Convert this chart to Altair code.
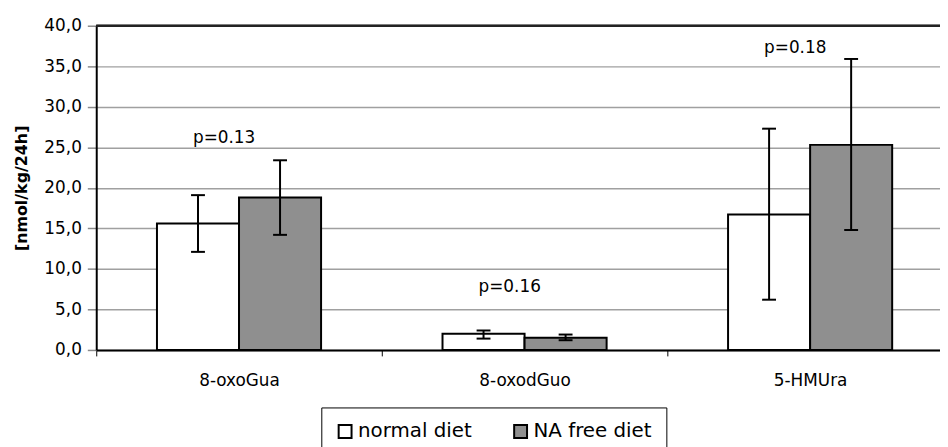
import altair as alt
import pandas as pd

categories = ["8-oxoGua", "8-oxodGuo", "5-HMUra"]
diets = ["normal diet", "NA free diet"]
normal_mean = [15.6, 2.0, 16.7]
normal_low = [12.1, 1.4, 6.2]
normal_high = [19.1, 2.4, 27.3]
nafree_mean = [18.8, 1.5, 25.3]
nafree_low = [14.2, 1.2, 14.8]
nafree_high = [23.4, 1.9, 35.9]
p_labels = ["p=0.13", "p=0.16", "p=0.18"]
p_label_y = [26.2, 7.8, 37.2]
y_ticks = [0, 5, 10, 15, 20, 25, 30, 35, 40]

rows = []
for i, c in enumerate(categories):
    rows.append({"category": c, "diet": diets[0], "mean": normal_mean[i],
                 "low": normal_low[i], "high": normal_high[i]})
    rows.append({"category": c, "diet": diets[1], "mean": nafree_mean[i],
                 "low": nafree_low[i], "high": nafree_high[i]})
df = pd.DataFrame(rows)
pdf = pd.DataFrame({"category": categories, "label": p_labels, "y": p_label_y})

FONT = "DejaVu Sans"

x_enc = alt.X(
    "category:N", sort=categories,
    scale=alt.Scale(range=[0, 864], paddingInner=0, paddingOuter=0),
    axis=alt.Axis(title=None, tickBand="extent", labelAngle=0, labelFontSize=17,
                  labelFont=FONT, labelColor="black", labelPadding=17,
                  tickColor="black", tickSize=6, tickWidth=1,
                  domainColor="black", domainWidth=2, grid=False),
)
xoff = alt.XOffset("diet:N", sort=diets,
                   scale=alt.Scale(paddingInner=0, paddingOuter=0.74))
y_scale = alt.Scale(domain=[0, 40], nice=False)
y_axis = alt.Axis(
    values=y_ticks,
    labelExpr="replace(format(datum.value, '.1f'), '.', ',')",
    labelFontSize=17, labelFont=FONT, labelColor="black", labelPadding=6,
    tickSize=9, tickColor="#8a8a8a", tickWidth=1.5,
    domainColor="black", domainWidth=2,
    grid=True, gridColor="#a0a0a0", gridWidth=1.5,
    title="[nmol/kg/24h]", titleFont=FONT, titleFontSize=16, titleFontWeight="bold",
    titleColor="black", titleAngle=-90, titleX=-75, titleY=163.5,
    titleAlign="center", titleBaseline="middle",
)

bars = alt.Chart(df).mark_bar(stroke="black", strokeWidth=2).encode(
    x=x_enc,
    xOffset=xoff,
    y=alt.Y("mean:Q", scale=y_scale, axis=y_axis),
    fill=alt.Fill("diet:N", sort=diets,
                  scale=alt.Scale(domain=diets, range=["white", "#8f8f8f"]),
                  legend=alt.Legend(
                      orient="none", legendX=227, legendY=385, direction="horizontal",
                      title=None, symbolType="square", symbolSize=169,
                      symbolStrokeColor="black", symbolStrokeWidth=2,
                      labelFontSize=20, labelFont=FONT, labelColor="black",
                      strokeColor="black", fillColor="white", padding=14,
                      columnPadding=38, labelOffset=3, symbolOpacity=1)),
)

err = alt.Chart(df).mark_rule(color="black", strokeWidth=2).encode(
    x=alt.X("category:N", sort=categories),
    xOffset=alt.XOffset("diet:N", sort=diets),
    y="low:Q",
    y2="high:Q",
)
cap_lo = alt.Chart(df).mark_tick(color="black", thickness=2, size=14, opacity=1).encode(
    x=alt.X("category:N", sort=categories),
    xOffset=alt.XOffset("diet:N", sort=diets),
    y="low:Q",
)
cap_hi = alt.Chart(df).mark_tick(color="black", thickness=2, size=14, opacity=1).encode(
    x=alt.X("category:N", sort=categories),
    xOffset=alt.XOffset("diet:N", sort=diets),
    y="high:Q",
)
ptext = alt.Chart(pdf).mark_text(font=FONT, fontSize=17, color="black", dx=-15,
                                 baseline="middle").encode(
    x=alt.X("category:N", sort=categories),
    y="y:Q",
    text="label:N",
)
top = alt.Chart(pdf).mark_rule(color="#222222", strokeWidth=2).encode(y=alt.datum(40))

chart = alt.layer(bars, err, cap_lo, cap_hi, ptext, top).properties(
    width=851, height=327,
    autosize=alt.AutoSizeParams(type="none"),
    padding={"left": 89, "top": 16, "right": 0, "bottom": 96},
    background="white",
).configure_view(stroke=None)

chart.save("out.html", embed_options={"renderer": "svg", "actions": False})
